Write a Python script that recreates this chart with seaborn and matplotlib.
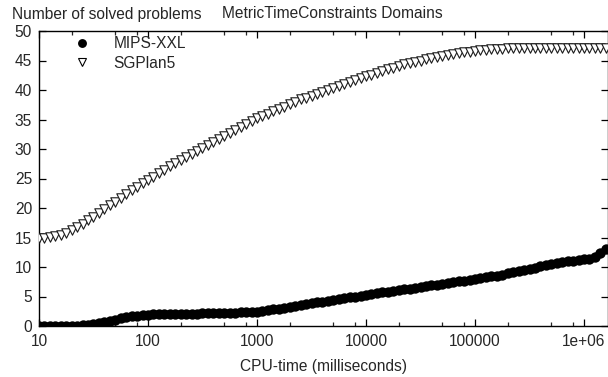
import matplotlib
matplotlib.use("Agg")
import matplotlib.pyplot as plt
from matplotlib.lines import Line2D
from matplotlib.ticker import FixedLocator, NullFormatter
import seaborn as sns
import pandas as pd

# CPU-time sample grid (milliseconds)
cpu_ms = [
    10, 11.2, 12.6, 14.1, 15.8, 17.8, 20, 22.4, 25.1, 28.2,
    31.6, 35.5, 39.8, 44.7, 50.1, 56.2, 63.1, 70.8, 79.4, 89.1,
    100, 112, 126, 141, 158, 178, 200, 224, 251, 282,
    316, 355, 398, 447, 501, 562, 631, 708, 794, 891,
    1000, 1122, 1259, 1413, 1585, 1778, 1995, 2239, 2512, 2818,
    3162, 3548, 3981, 4467, 5012, 5623, 6310, 7079, 7943, 8913,
    10000, 11220, 12589, 14125, 15849, 17783, 19953, 22387, 25119, 28184,
    31623, 35481, 39811, 44668, 50119, 56234, 63096, 70795, 79433, 89125,
    100000, 112202, 125893, 141254, 158489, 177828, 199526, 223872, 251189, 281838,
    316228, 354813, 398107, 446684, 501187, 562341, 630957, 707946, 794328, 891251,
    1000000, 1122018, 1258925, 1412538, 1584893,
]

# Number of solved problems per planner
mips_xxl = [
    0, 0, 0, 0, 0, 0, 0, 0.05, 0.1, 0.2,
    0.35, 0.5, 0.7, 0.9, 1.1, 1.3, 1.5, 1.65, 1.75, 1.85,
    1.9, 1.95, 2.0, 2.0, 2.05, 2.05, 2.1, 2.1, 2.1, 2.1,
    2.15, 2.15, 2.15, 2.2, 2.2, 2.2, 2.25, 2.3, 2.3, 2.35,
    2.4, 2.5, 2.65, 2.8, 2.95, 3.1, 3.25, 3.4, 3.55, 3.7,
    3.85, 4.0, 4.15, 4.3, 4.45, 4.6, 4.75, 4.9, 5.0, 5.15,
    5.3, 5.4, 5.55, 5.7, 5.8, 5.95, 6.1, 6.2, 6.35, 6.5,
    6.6, 6.75, 6.9, 7.0, 7.15, 7.3, 7.45, 7.55, 7.7, 7.8,
    7.95, 8.1, 8.25, 8.4, 8.55, 8.7, 8.9, 9.1, 9.3, 9.5,
    9.7, 9.9, 10.1, 10.35, 10.55, 10.75, 10.9, 11.0, 11.1, 11.2,
    11.3, 11.4, 11.7, 12.3, 13.0,
]
sgplan5 = [
    15.0, 15.0, 15.1, 15.2, 15.4, 15.8, 16.2, 16.7, 17.3, 17.9,
    18.5, 19.1, 19.8, 20.5, 21.1, 21.7, 22.4, 23.0, 23.6, 24.2,
    24.7, 25.3, 25.9, 26.5, 27.1, 27.6, 28.2, 28.7, 29.2, 29.7,
    30.2, 30.7, 31.2, 31.7, 32.2, 32.7, 33.2, 33.7, 34.2, 34.7,
    35.2, 35.6, 36.0, 36.4, 36.8, 37.2, 37.6, 38.0, 38.4, 38.7,
    39.0, 39.4, 39.7, 40.0, 40.4, 40.7, 41.0, 41.4, 41.7, 42.0,
    42.3, 42.6, 42.9, 43.2, 43.5, 43.8, 44.1, 44.4, 44.6, 44.8,
    45.0, 45.2, 45.4, 45.6, 45.8, 46.0, 46.1, 46.3, 46.4, 46.5,
    46.6, 46.7, 46.8, 46.9, 47.0, 47.0, 47.1, 47.1, 47.1, 47.1,
    47.1, 47.2, 47.2, 47.2, 47.2, 47.2, 47.2, 47.2, 47.2, 47.2,
    47.2, 47.2, 47.2, 47.2, 47.2,
]

y_ticks = [0, 5, 10, 15, 20, 25, 30, 35, 40, 45, 50]
x_ticks = [10, 100, 1000, 10000, 100000, 1000000]
x_tick_labels = ["10", "100", "1000", "10000", "100000", "1e+06"]

FS = 11.2

sns.set_style("ticks")
plt.rcParams["font.family"] = ["Liberation Sans", "DejaVu Sans"]
plt.rcParams["font.size"] = FS

df_mips = pd.DataFrame({"cpu": cpu_ms, "solved": mips_xxl})
df_sgp = pd.DataFrame({"cpu": cpu_ms, "solved": sgplan5})

W, H = 608, 377
fig = plt.figure(figsize=(W / 100, H / 100), dpi=100)
ax_l, ax_r, ax_t, ax_b = 39, 608, 31, 326
ax = fig.add_axes([ax_l / W, 1 - ax_b / H, (ax_r - ax_l) / W, (ax_b - ax_t) / H])

sns.scatterplot(data=df_mips, x="cpu", y="solved", ax=ax, marker="o",
                color="black", s=56, linewidth=0, clip_on=True, zorder=3)
sns.scatterplot(data=df_sgp, x="cpu", y="solved", ax=ax, marker="v",
                facecolor="white", edgecolor="#1a1a1a", s=46, linewidth=0.8,
                clip_on=True, zorder=3)

ax.set_xscale("log")
ax.set_xlim(10, 10 ** 6.22)
ax.set_ylim(0, 50)

ax.set_yticks(y_ticks)
ax.set_yticklabels([str(v) for v in y_ticks])
ax.xaxis.set_major_locator(FixedLocator(x_ticks))
ax.set_xticklabels(x_tick_labels)
minor = [m * 10 ** e for e in range(1, 7) for m in (2, 5, 8)]
ax.xaxis.set_minor_locator(FixedLocator(minor))
ax.xaxis.set_minor_formatter(NullFormatter())

ax.tick_params(axis="both", which="major", direction="in", length=5,
               width=0.9, color="black", labelsize=FS, top=True, right=True)
ax.tick_params(axis="x", which="major", pad=6)
ax.tick_params(axis="y", which="major", pad=5)
ax.tick_params(axis="x", which="minor", direction="in", length=2.9,
               width=0.9, top=True, bottom=True)
ax.tick_params(axis="y", which="minor", left=False, right=False)
for side in ("left", "right", "top", "bottom"):
    ax.spines[side].set_visible(True)
    ax.spines[side].set_color("black")
    ax.spines[side].set_linewidth(1.0)

ax.set_xlabel("CPU-time (milliseconds)", fontsize=FS)
ax.set_ylabel("")
ax.xaxis.label.set_va("center")
ax.xaxis.set_label_coords(0.5, -(367 - ax_b) / (ax_b - ax_t))

fig.text(12 / W, 1 - 14 / H, "Number of solved problems", ha="left",
         va="center", fontsize=FS)
fig.text(222 / W, 1 - 14 / H, "MetricTimeConstraints Domains", ha="left",
         va="center", fontsize=FS)

handles = [
    Line2D([], [], linestyle="none", marker="o", markersize=6.4,
           markerfacecolor="black", markeredgewidth=0, label="MIPS-XXL"),
    Line2D([], [], linestyle="none", marker="v", markersize=5.8,
           markerfacecolor="white", markeredgecolor="black",
           markeredgewidth=0.8, label="SGPlan5"),
]
leg = ax.legend(handles=handles, loc="upper left", frameon=False,
                bbox_to_anchor=((74 - ax_l) / (ax_r - ax_l), 1 - (36 - ax_t) / (ax_b - ax_t)),
                borderaxespad=0, borderpad=0, handlelength=1.0,
                handletextpad=1.55, labelspacing=0.3, fontsize=FS)

fig.savefig("out.png", dpi=100)
